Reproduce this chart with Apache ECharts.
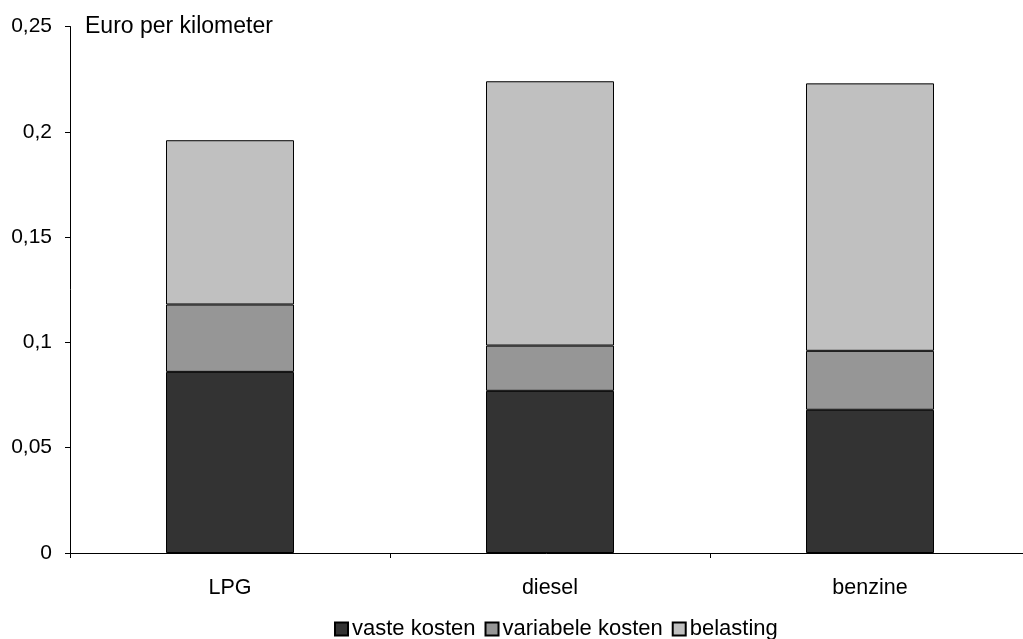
<!DOCTYPE html>
<html>
<head>
<meta charset="utf-8">
<script src="https://cdn.jsdelivr.net/npm/echarts@6/dist/echarts.min.js"></script>
<style>
  html, body { margin: 0; padding: 0; background: #fff; }
  #chart { width: 1023px; height: 639px; }
</style>
</head>
<body>
<div id="chart"></div>
<script>
// Kosten per kilometer, opgesplitst naar kostensoort
const categories = ['LPG', 'diesel', 'benzine'];
const vasteKosten = [0.086, 0.077, 0.068];
const variabeleKosten = [0.032, 0.0215, 0.028];
const belasting = [0.078, 0.1255, 0.127];
const seriesNames = ['vaste kosten', 'variabele kosten', 'belasting'];
const seriesColors = ['#333333', '#969696', '#c0c0c0'];

const FONT = 'Liberation Sans, Arial, sans-serif';
const fmt = v => String(v).replace('.', ',');

const chart = echarts.init(document.getElementById('chart'), null, { renderer: 'canvas' });

const makeSeries = (name, data, color) => ({
  name: name,
  type: 'bar',
  stack: 'kosten',
  data: data,
  barWidth: '40%',
  itemStyle: { color: color, borderColor: '#000', borderWidth: 1 },
  emphasis: { disabled: true }
});

chart.setOption({
  animation: false,
  backgroundColor: '#fff',
  // the category axis runs a little past the right edge of the canvas
  grid: { left: 70, width: 960, top: 26.5, height: 526.5, outerBoundsMode: 'none' },
  legend: {
    top: 613,
    left: 329,
    itemWidth: 13,
    itemHeight: 13,
    itemGap: 9,
    icon: 'rect',
    textStyle: { fontFamily: FONT, fontSize: 22, color: '#000', padding: [0, 0, 0, -1] },
    data: seriesNames
  },
  xAxis: {
    type: 'category',
    data: categories,
    axisLine: { lineStyle: { color: '#000', width: 1 } },
    axisTick: { show: true, length: 5, alignWithLabel: false, lineStyle: { color: '#000' } },
    axisLabel: { fontFamily: FONT, fontSize: 21.5, color: '#000', margin: 24 },
    splitLine: { show: false }
  },
  yAxis: {
    type: 'value',
    min: 0,
    max: 0.25,
    interval: 0.05,
    name: 'Euro per kilometer',
    nameLocation: 'end',
    nameGap: 0,
    nameTextStyle: { fontFamily: FONT, fontSize: 23, color: '#000', align: 'left', verticalAlign: 'middle', padding: [0, 0, 0, 15] },
    axisLine: { show: true, lineStyle: { color: '#000', width: 1 } },
    axisTick: { show: true, length: 5, lineStyle: { color: '#000' } },
    axisLabel: { fontFamily: FONT, fontSize: 21, color: '#000', margin: 18, formatter: fmt },
    splitLine: { show: false }
  },
  series: [
    makeSeries(seriesNames[0], vasteKosten, seriesColors[0]),
    makeSeries(seriesNames[1], variabeleKosten, seriesColors[1]),
    makeSeries(seriesNames[2], belasting, seriesColors[2])
  ]
});
</script>
</body>
</html>
